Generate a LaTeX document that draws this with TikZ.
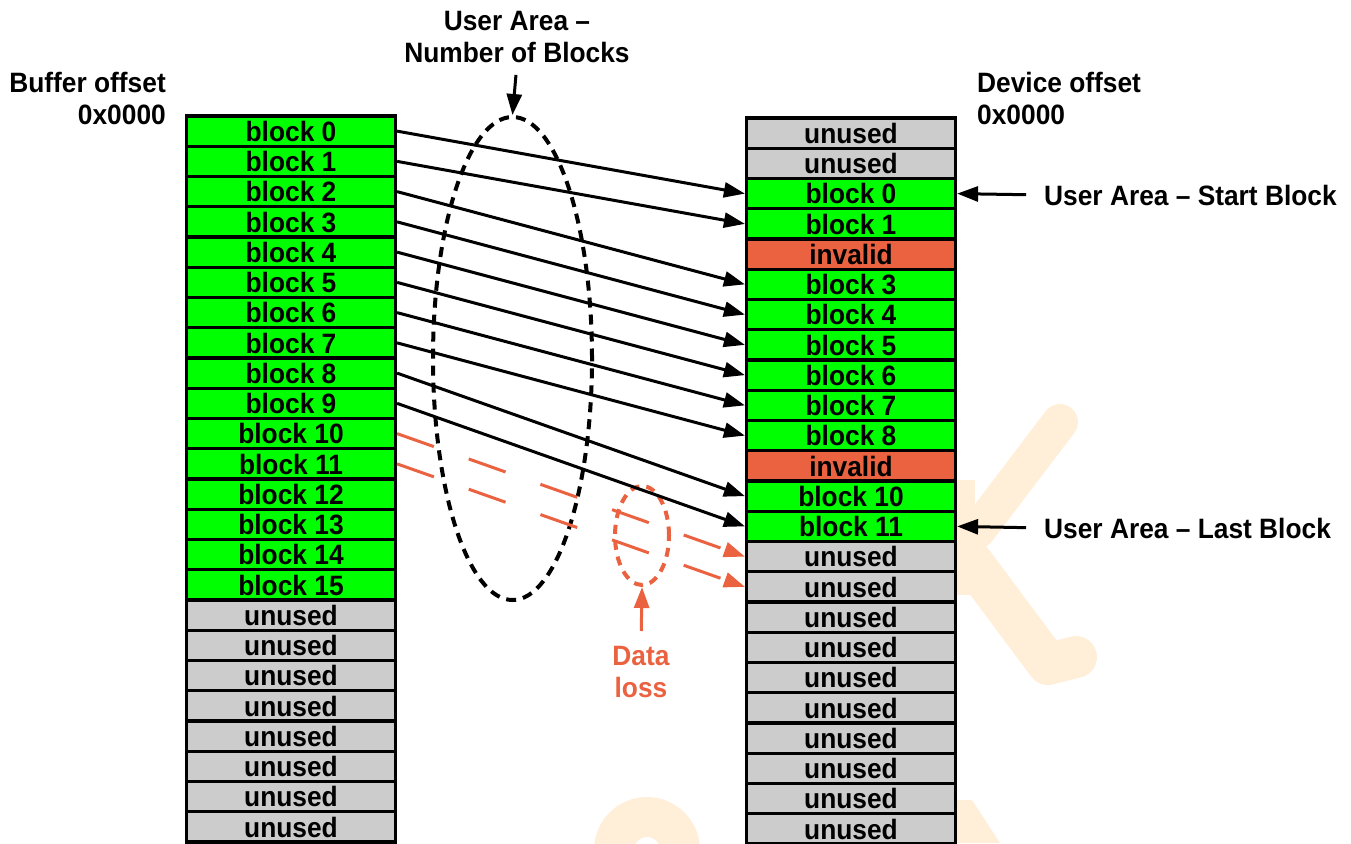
\documentclass[tikz,border=0pt]{standalone}
\usepackage{fontspec}
\setmainfont{Liberation Sans}[FakeStretch=0.94]
\usetikzlibrary{arrows.meta,shapes.geometric}
\definecolor{cellgreen}{RGB}{0,255,0}
\definecolor{cellgray}{RGB}{204,204,204}
\definecolor{badred}{RGB}{234,98,64}
\definecolor{wmark}{RGB}{255,239,217}

\begin{document}
\begin{tikzpicture}[x=1pt,y=-1pt,
  cell/.style={draw=black, line width=3.2pt, minimum width=209pt, minimum height=30.25pt,
    inner sep=0pt, text height=20.5pt, text depth=0pt,
    font=\fontsize{28}{32}\selectfont\bfseries},
  lbl/.style={inner sep=0pt, font=\fontsize{28}{32}\selectfont\bfseries},
  arr/.style={line width=3pt, -{Triangle[length=21pt,width=15pt]}},
  lossarr/.style={arr, draw=badred, dash pattern=on 39pt off 37pt},
  ring/.style={draw, ellipse, line width=4pt, inner sep=0pt},
  wm/.style={draw=wmark, line cap=round, line join=round},
]
\useasboundingbox (0,0) rectangle (1351,843);

% faint background logo strokes
\draw[wm, line width=36pt] (1060,422) -- (978,530);
\draw[wm, line width=42pt] (972,562) -- (1048,664) -- (1076,657);
\fill[wmark] (957,480) rectangle (975,595);
\draw[wm, line width=40pt, line cap=butt] (614,850) arc[start angle=180, end angle=360, radius=33];
\fill[wmark] (957,800) -- (972,800) -- (1000,843) -- (957,843) -- cycle;

% buffer column
\foreach \t/\c [count=\i from 0] in {block 0/cellgreen, block 1/cellgreen, block 2/cellgreen,
    block 3/cellgreen, block 4/cellgreen, block 5/cellgreen, block 6/cellgreen, block 7/cellgreen,
    block 8/cellgreen, block 9/cellgreen, block 10/cellgreen, block 11/cellgreen, block 12/cellgreen,
    block 13/cellgreen, block 14/cellgreen, block 15/cellgreen, unused/cellgray, unused/cellgray,
    unused/cellgray, unused/cellgray, unused/cellgray, unused/cellgray, unused/cellgray, unused/cellgray}
  \node[cell, fill=\c] (L\i) at (291, {131.125+30.25*\i}) {\t};

% device column
\foreach \t/\c [count=\i from 0] in {unused/cellgray, unused/cellgray, block 0/cellgreen,
    block 1/cellgreen, invalid/badred, block 3/cellgreen, block 4/cellgreen, block 5/cellgreen,
    block 6/cellgreen, block 7/cellgreen, block 8/cellgreen, invalid/badred, block 10/cellgreen,
    block 11/cellgreen, unused/cellgray, unused/cellgray, unused/cellgray, unused/cellgray,
    unused/cellgray, unused/cellgray, unused/cellgray, unused/cellgray, unused/cellgray, unused/cellgray}
  \node[cell, fill=\c] (R\i) at (851, {133.125+30.25*\i}) {\t};

% rings
\node[ring, dash pattern=on 10pt off 7pt, minimum width=159pt, minimum height=483pt] (uarea) at (512.5,358.5) {};
\node[ring, draw=badred, dash pattern=on 9pt off 7pt, minimum width=54pt, minimum height=99pt] (loss) at (642,535.5) {};

% labels
\node[lbl, align=center, anchor=north] (ulbl) at (517,11) {User Area –\\Number of Blocks};
\node[lbl, align=right, anchor=north east] (bufoff) at (166,72) {Buffer offset\\0x0000};
\node[lbl, align=left, anchor=north west] (devoff) at (977,72) {Device offset\\0x0000};
\node[lbl, anchor=west] (ustart) at (1044,195) {User Area – Start Block};
\node[lbl, anchor=west] (ulast) at (1044,528) {User Area – Last Block};
\node[lbl, text=badred, align=center, anchor=north] (losslbl) at (641,646) {Data\\loss};

% block mapping
\foreach \a/\b in {0/2,1/3,2/5,3/6,4/7,5/8,6/9,7/10,8/12,9/13}
  \draw[arr] (L\a.east) -- (R\b.west);
\draw[lossarr] (L10.east) -- (R14.west);
\draw[lossarr] (L11.east) -- (R15.west);

% pointers
\draw[arr, shorten <=12pt] (ulbl.south) -- (uarea.north);
\draw[arr, shorten <=18pt] (ustart.west) -- (R2.east);
\draw[arr, shorten <=18pt] (ulast.west) -- (R13.east);
\draw[arr, draw=badred, shorten <=15pt] (losslbl.north) -- (loss.south);
\end{tikzpicture}
\end{document}
